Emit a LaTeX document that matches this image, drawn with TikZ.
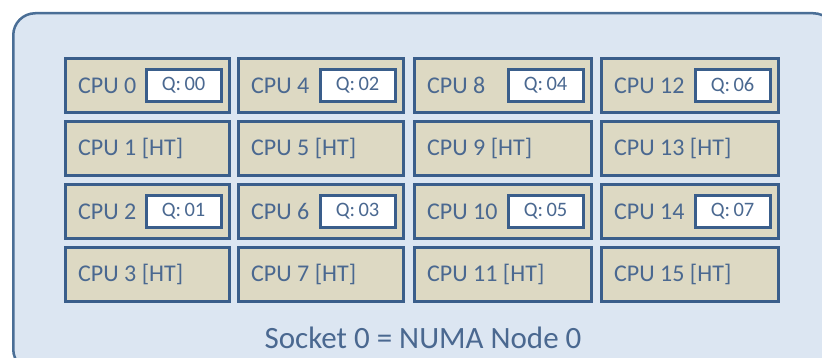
\documentclass[tikz,border=0pt]{standalone}
\usepackage{fontspec}
\setmainfont{Carlito}
\definecolor{outerfill}{HTML}{DCE6F2}
\definecolor{outerline}{HTML}{4A6E96}
\definecolor{cpufill}{HTML}{DDD9C3}
\definecolor{cpuline}{HTML}{3A5E8B}
\definecolor{txt}{HTML}{4A6890}
\begin{document}
\begin{tikzpicture}[x=1pt,y=-1pt,
  cpubox/.style={draw=cpuline,line width=3pt,fill=cpufill,rectangle,inner sep=0pt,minimum height=54pt},
  qbox/.style={draw=cpuline,line width=2.8pt,fill=white,rectangle,inner sep=0pt,minimum width=75pt,minimum height=32pt,text=txt,font=\fontsize{20.5}{22}\selectfont},
  cputext/.style={text=txt,font=\fontsize{24}{26}\selectfont,inner sep=0pt,anchor=west},
  sockettext/.style={text=txt,font=\fontsize{31}{34}\selectfont,inner sep=0pt}]
\useasboundingbox (0,0) rectangle (822,358);
\clip (0,0) rectangle (822,358);
\node[draw=outerline,line width=2.5pt,fill=outerfill,rounded corners=22pt,minimum width=822pt,minimum height=358pt,inner sep=0pt,anchor=north west] (socket) at (12,12) {};
\foreach \c/\l/\w in {0/64/164,1/237/165,2/413/177,3/600/177}{
  \foreach \r/\t in {0/57,1/120,2/183,3/246}{
    \pgfmathtruncatemacro{\n}{4*\c+\r}
    \node[cpubox,minimum width=\w pt,anchor=north west] (cpu\n) at (\l,\t) {};
  }
}
\foreach \n in {0,2,4,6,8,10,12,14}{
  \node[cputext] (lbl\n) at ([xshift=14pt]cpu\n.west) {CPU \n};
}
\foreach \n in {1,3,5,7,9,11,13,15}{
  \node[cputext] (lbl\n) at ([xshift=14pt]cpu\n.west) {CPU \n{} [HT]};
}
\foreach \n/\q in {0/00,2/01,4/02,6/03,8/04,10/05,12/06,14/07}{
  \node[qbox,anchor=east] (q\n) at ([xshift=-8.5pt]cpu\n.east) {Q:\,\q};
}
\node[sockettext] (sockettitle) at (423,338) {Socket 0 = NUMA Node 0};
\end{tikzpicture}
\end{document}
